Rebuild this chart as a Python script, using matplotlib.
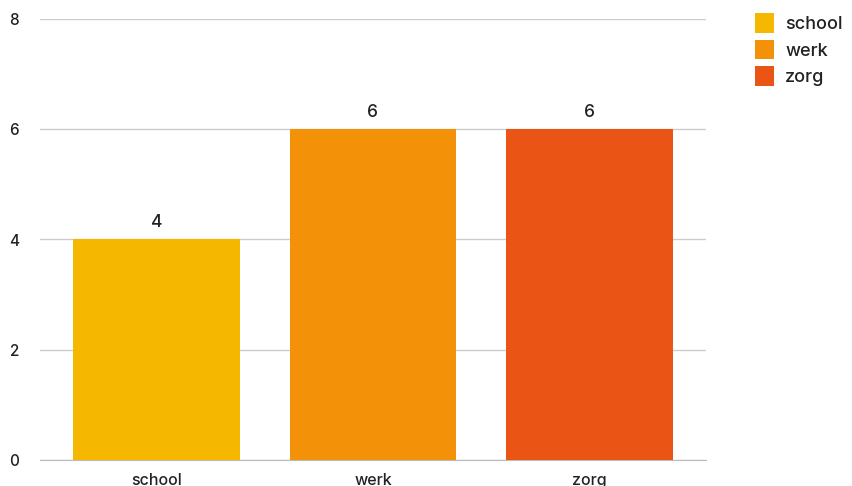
import matplotlib
matplotlib.use("Agg")
import matplotlib.pyplot as plt
from matplotlib.patches import Patch

categories = ["school", "werk", "zorg"]
values = [4, 6, 6]
colors = ["#F5B700", "#F39208", "#EA5414"]
yticks = [0, 2, 4, 6, 8]

plt.rcParams['font.family'] = ['Inter', 'DejaVu Sans']
text_color = "#222222"

fig = plt.figure(figsize=(8.52, 4.86), dpi=100)
ax = fig.add_axes([40/852, 1-460/486, 666/852, 441/486])

x = list(range(len(categories)))
ax.bar(x, values, width=0.771, color=colors, zorder=3)
for xi, v in zip(x, values):
    ax.text(xi, v + 0.15, str(v), ha='center', va='bottom', fontsize=12.5,
            color=text_color, fontweight='medium')

ax.set_xlim(-0.538, len(categories) - 1 + 0.538)
ax.set_ylim(0, 8)
ax.set_yticks(yticks)
ax.set_yticklabels([str(t) for t in yticks])
ax.set_xticks(x)
ax.set_xticklabels(categories)
ax.yaxis.grid(True, color="#cccccc", linewidth=1, zorder=0)
for s in ["top", "right", "left"]:
    ax.spines[s].set_visible(False)
ax.spines["bottom"].set_color("#bbbbbb")
ax.tick_params(axis='y', length=0, pad=15, labelsize=11, labelcolor=text_color)
ax.tick_params(axis='x', length=0, pad=9, labelsize=11.5, labelcolor=text_color)
for lbl in ax.get_yticklabels() + ax.get_xticklabels():
    lbl.set_fontweight('medium')

handles = [Patch(facecolor=c, edgecolor='none', label=l) for c, l in zip(colors, categories)]
leg = fig.legend(handles=handles, loc='upper left', bbox_to_anchor=(739/852, 1 + 3/486),
                 frameon=False, handlelength=1.05, handleheight=1.3, handletextpad=0.6,
                 labelspacing=0.36, fontsize=13, borderpad=0.4)
for t in leg.get_texts():
    t.set_color(text_color)
    t.set_fontweight('medium')

fig.savefig("out.png", dpi=100)
